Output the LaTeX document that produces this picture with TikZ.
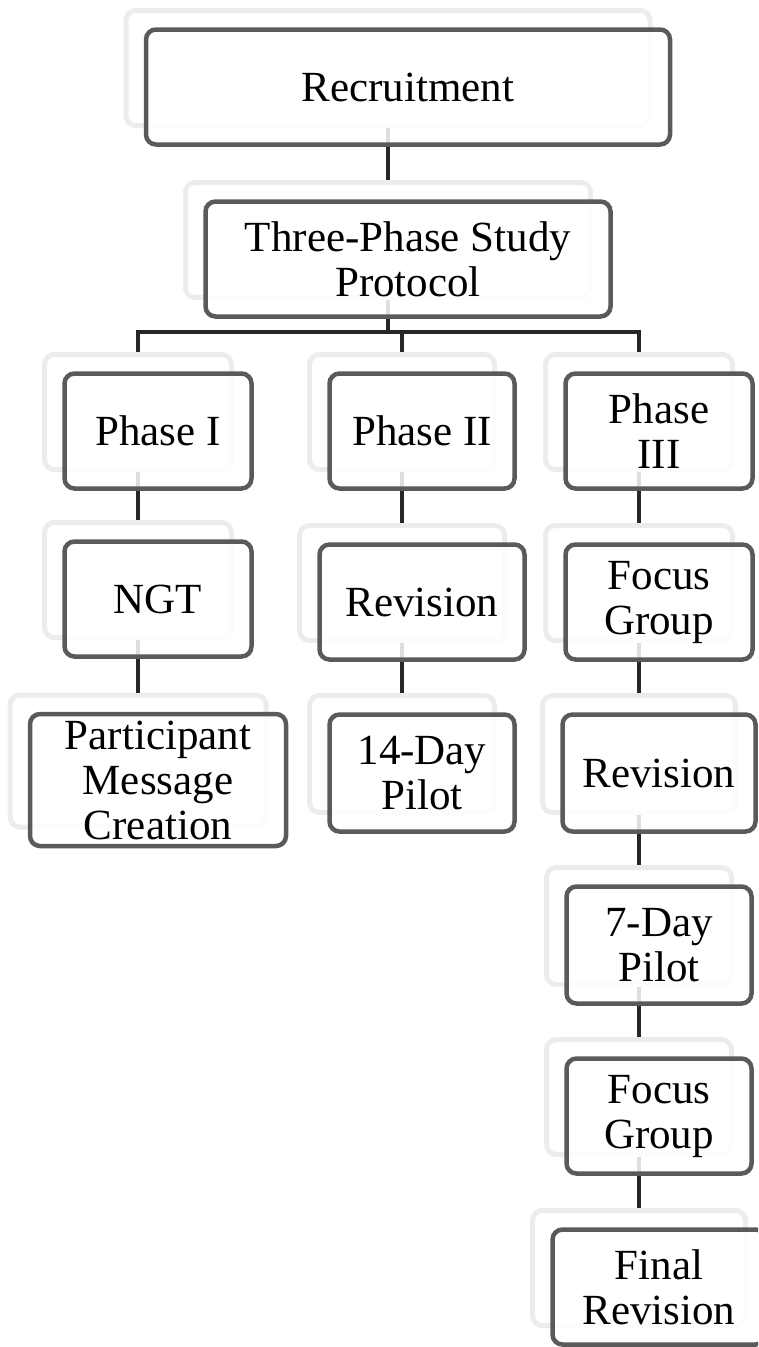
\documentclass[tikz,border=0pt]{standalone}
\usepackage{fontspec}
\setmainfont{Liberation Serif}
\usetikzlibrary{fit,backgrounds}
\definecolor{boxline}{HTML}{5A5A5A}
\definecolor{ghostline}{HTML}{ECECEC}
\definecolor{linkline}{HTML}{262626}
\begin{document}
\begin{tikzpicture}[x=1pt,y=-1pt,
  box/.style={shape=rectangle,rounded corners=10pt,draw=boxline,line width=4.5pt,fill=white,fill opacity=0.85,text opacity=1,inner sep=0pt,align=center,minimum height=115pt,font=\fontsize{43}{45}\selectfont},
  ghost/.style={shape=rectangle,rounded corners=10pt,draw=ghostline,line width=5pt,inner sep=-2.25pt,xshift=-20pt,yshift=19pt},
  link/.style={draw=linkline,line width=4.5pt}]
\useasboundingbox (0,0) rectangle (758,1347);
\clip (0,0) rectangle (758,1347);
\node[box,minimum width=524pt] (rec) at (408,87) {Recruitment};
\node[box,minimum width=405pt] (proto) at (408,259) {Three-Phase Study\\Protocol};
% phase I
\node[box,minimum width=187pt] (ph1) at (158,431) {Phase I};
\node[box,minimum width=187pt] (ngt) at (158,599) {NGT};
\node[box,minimum width=256pt,minimum height=132pt] (pmc) at (158,780) {Participant\\Message\\Creation};
% phase II
\node[box,minimum width=185pt] (ph2) at (422,431) {Phase II};
\node[box,minimum width=205pt] (rev2) at (422,602) {Revision};
\node[box,minimum width=185pt,minimum height=117pt] (pilot14) at (422,773) {14-Day\\Pilot};
% phase III
\node[box,minimum width=187pt] (ph3) at (659,431) {Phase\\III};
\node[box,minimum width=187pt] (fg1) at (659,602) {Focus\\Group};
\node[box,minimum width=193pt,minimum height=117pt] (rev3) at (659,773) {Revision};
\node[box,minimum width=185pt,minimum height=117pt] (pilot7) at (659,945) {7-Day\\Pilot};
\node[box,minimum width=185pt] (fg2) at (659,1116) {Focus\\Group};
\node[box,minimum width=213pt] (final) at (659,1287) {Final\\Revision};
\begin{pgfonlayer}{background}
\node[ghost,fit=(rec)] (srec) {};
\node[ghost,fit=(proto)] (sproto) {};
\node[ghost,fit=(ph1)] (sph1) {};
\node[ghost,fit=(ngt)] (sngt) {};
\node[ghost,fit=(pmc)] (spmc) {};
\node[ghost,fit=(ph2)] (sph2) {};
\node[ghost,fit=(rev2)] (srev2) {};
\node[ghost,fit=(pilot14)] (spilot14) {};
\node[ghost,fit=(ph3)] (sph3) {};
\node[ghost,fit=(fg1)] (sfg1) {};
\node[ghost,fit=(rev3)] (srev3) {};
\node[ghost,fit=(pilot7)] (spilot7) {};
\node[ghost,fit=(fg2)] (sfg2) {};
\node[ghost,fit=(final)] (sfinal) {};
\path [link] (srec) edge (sproto);
\draw [link] (sproto.south) -- ++(0,32) coordinate (bus) -| (sph1.north);
\draw [link] (bus) -| (sph2.north);
\draw [link] (bus) -| (sph3.north);
\path [link] (sph1) edge (sngt);
\path [link] (sngt) edge (spmc);
\path [link] (sph2) edge (srev2);
\path [link] (srev2) edge (spilot14);
\path [link] (sph3) edge (sfg1);
\path [link] (sfg1) edge (srev3);
\path [link] (srev3) edge (spilot7);
\path [link] (spilot7) edge (sfg2);
\path [link] (sfg2) edge (sfinal);
\end{pgfonlayer}
\end{tikzpicture}
\end{document}
